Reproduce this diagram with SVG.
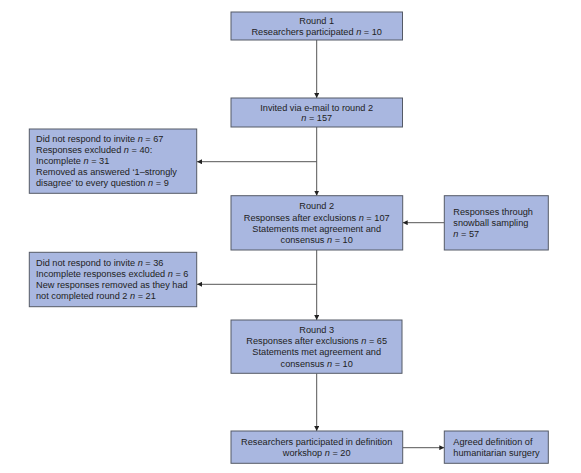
<svg xmlns="http://www.w3.org/2000/svg" width="581" height="473" viewBox="0 0 581 473">
<defs>
<style>
.box{fill:#a9b7e0;stroke:#555a66;stroke-width:1}
.t{font-family:"Liberation Sans",Arial,sans-serif;font-size:9.2px;fill:#222}
.c{text-anchor:middle}
.i{font-style:italic}
.ln{stroke:#555;stroke-width:1;fill:none}
</style>
<marker id="ah" viewBox="0 0 10 10" refX="10" refY="5" markerWidth="5" markerHeight="5" markerUnits="userSpaceOnUse" orient="auto">
<path d="M0,0 L10,5 L0,10 z" fill="#222"/>
</marker>
</defs>
<rect width="581" height="473" fill="#fff"/>
<g id="connectors">
<line class="ln" x1="316.7" y1="40" x2="316.7" y2="98" marker-end="url(#ah)"/>
<line class="ln" x1="316.7" y1="127" x2="316.7" y2="195.7" marker-end="url(#ah)"/>
<line class="ln" x1="316.7" y1="161.7" x2="197" y2="161.7" marker-end="url(#ah)"/>
<line class="ln" x1="444.3" y1="222.7" x2="402.7" y2="222.7" marker-end="url(#ah)"/>
<line class="ln" x1="316.7" y1="250" x2="316.7" y2="320" marker-end="url(#ah)"/>
<line class="ln" x1="316.7" y1="284.3" x2="197" y2="284.3" marker-end="url(#ah)"/>
<line class="ln" x1="316.7" y1="373.3" x2="316.7" y2="431" marker-end="url(#ah)"/>
<line class="ln" x1="402.7" y1="447.7" x2="444.3" y2="447.7" marker-end="url(#ah)"/>
</g>
<g id="round1">
<rect class="box" x="231" y="12" width="171.5" height="28"/>
<text class="t c" x="316.7" y="23.5">Round 1</text>
<text class="t c" x="316.7" y="35">Researchers participated <tspan class="i">n</tspan> = 10</text>
</g>
<g id="invited">
<rect class="box" x="231" y="98" width="171.5" height="29"/>
<text class="t c" x="316.7" y="110.6">Invited via e-mail to round 2</text>
<text class="t c" x="316.7" y="120.8"><tspan class="i">n</tspan> = 157</text>
</g>
<g id="excluded1">
<rect class="box" x="29.3" y="129" width="167.4" height="64.3"/>
<text class="t" x="36" y="142.3">Did not respond to invite <tspan class="i">n</tspan> = 67</text>
<text class="t" x="36" y="153.3">Responses excluded <tspan class="i">n</tspan> = 40:</text>
<text class="t" x="36" y="164.3">Incomplete <tspan class="i">n</tspan> = 31</text>
<text class="t" x="36" y="175.3">Removed as answered ‘1–strongly</text>
<text class="t" x="36" y="186.3">disagree’ to every question <tspan class="i">n</tspan> = 9</text>
</g>
<g id="round2">
<rect class="box" x="231" y="195.7" width="171.7" height="54.3"/>
<text class="t c" x="316.7" y="209.3">Round 2</text>
<text class="t c" x="316.7" y="220.6">Responses after exclusions <tspan class="i">n</tspan> = 107</text>
<text class="t c" x="316.7" y="232">Statements met agreement and</text>
<text class="t c" x="316.7" y="243.3">consensus <tspan class="i">n</tspan> = 10</text>
</g>
<g id="snowball">
<rect class="box" x="444.3" y="195.7" width="104" height="54.3"/>
<text class="t" x="453.3" y="215.3">Responses through</text>
<text class="t" x="453.3" y="226">snowball sampling</text>
<text class="t" x="453.3" y="236.6"><tspan class="i">n</tspan> = 57</text>
</g>
<g id="excluded2">
<rect class="box" x="29.3" y="252.3" width="167.4" height="54.4"/>
<text class="t" x="36" y="265.6">Did not respond to invite <tspan class="i">n</tspan> = 36</text>
<text class="t" x="36" y="277">Incomplete responses excluded <tspan class="i">n</tspan> = 6</text>
<text class="t" x="36" y="288.3">New responses removed as they had</text>
<text class="t" x="36" y="299">not completed round 2 <tspan class="i">n</tspan> = 21</text>
</g>
<g id="round3">
<rect class="box" x="231" y="320" width="171" height="53.3"/>
<text class="t c" x="316.7" y="333.3">Round 3</text>
<text class="t c" x="316.7" y="344.3">Responses after exclusions <tspan class="i">n</tspan> = 65</text>
<text class="t c" x="316.7" y="355.3">Statements met agreement and</text>
<text class="t c" x="316.7" y="366.6">consensus <tspan class="i">n</tspan> = 10</text>
</g>
<g id="workshop">
<rect class="box" x="231" y="431" width="171.7" height="32.3"/>
<text class="t c" x="316.7" y="445">Researchers participated in definition</text>
<text class="t c" x="316.7" y="455.6">workshop <tspan class="i">n</tspan> = 20</text>
</g>
<g id="definition">
<rect class="box" x="444.3" y="431" width="104" height="32.3"/>
<text class="t" x="453.3" y="445">Agreed definition of</text>
<text class="t" x="453.3" y="455.6">humanitarian surgery</text>
</g>
</svg>
